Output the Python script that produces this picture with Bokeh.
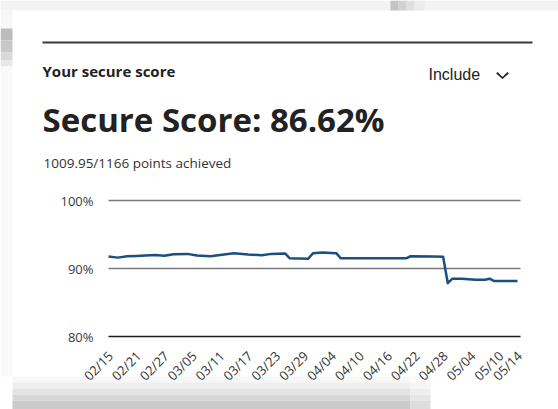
import math
import pandas as pd
from bokeh.plotting import figure
from bokeh.models import Range1d, Label, BoxAnnotation, PolyAnnotation
from bokeh.embed import file_html
from bokeh.resources import INLINE

YEAR = "2023"
# score series
dates = ["02/15", "02/17", "02/19", "02/21", "02/25", "02/27", "03/01", "03/04",
         "03/06", "03/09", "03/11", "03/14", "03/17", "03/20", "03/22", "03/25",
         "03/26", "03/30", "03/31", "04/02", "04/05", "04/06", "04/20", "04/21",
         "04/26", "04/28", "04/29", "04/30", "05/02", "05/05", "05/07", "05/08",
         "05/09", "05/14"]
scores = [91.76, 91.60, 91.80, 91.85, 92.00, 91.86, 92.10, 92.15,
          91.90, 91.80, 92.00, 92.25, 92.05, 91.95, 92.15, 92.22,
          91.50, 91.45, 92.25, 92.35, 92.25, 91.50, 91.50, 91.80,
          91.78, 91.72, 87.84, 88.50, 88.50, 88.35, 88.35, 88.50,
          88.15, 88.15]

x_tick_labels = ["02/15", "02/21", "02/27", "03/05", "03/11", "03/17", "03/23",
                 "03/29", "04/04", "04/10", "04/16", "04/22", "04/28", "05/04",
                 "05/10", "05/14"]
y_ticks = [80, 90, 100]
y_tick_labels = ["80%", "90%", "100%"]

card_label = "Your secure score"
filter_label = "Include"
headline = "Secure Score: 86.62%"
subline = "1009.95/1166 points achieved"

start = pd.to_datetime(YEAR + "/" + dates[0])
def day_of(d):
    return float((pd.to_datetime(YEAR + "/" + d) - start).days)

xs = [day_of(d) for d in dates]
tick_pos = [day_of(d) for d in x_tick_labels]

# ---- layout (page pixels) ----
W, H = 558, 409
PAGE0 = 0
PLOT_L, PLOT_R = 108, 517          # first / last day
GRID_R = 520
Y_TOP_PX, Y_BOT_PX = 200, 336      # 100% / 80%
px_day = (PLOT_R - PLOT_L) / (tick_pos[-1] - tick_pos[0])
px_pct = (Y_BOT_PX - Y_TOP_PX) / (y_ticks[-1] - y_ticks[0])
x0 = tick_pos[0] - (PLOT_L - PAGE0) / px_day
x1 = tick_pos[0] + (PAGE0 + W - PLOT_L) / px_day
y1 = y_ticks[-1] + (Y_TOP_PX - PAGE0) / px_pct
y0 = y_ticks[0] - (PAGE0 + H - Y_BOT_PX) / px_pct
grid_end = tick_pos[0] + (GRID_R - PLOT_L) / px_day

def sx(px):
    return px - PAGE0
def sy(py):
    return PAGE0 + H - py

def box(l, r, t, b, col, level="underlay"):
    p.add_layout(BoxAnnotation(left=sx(l), right=sx(r), bottom=sy(b), top=sy(t),
                               left_units="screen", right_units="screen",
                               bottom_units="screen", top_units="screen",
                               fill_color=col, fill_alpha=1, line_color=None,
                               level=level))

FONT = "Open Sans"
p = figure(width=W, height=H, output_backend="svg", toolbar_location=None,
           x_range=Range1d(x0, x1), y_range=Range1d(y0, y1),
           x_axis_location=None, y_axis_location=None, min_border=0)
p.outline_line_color = None
p.grid.visible = False
p.background_fill_color = "white"
p.border_fill_color = "white"

# shadows of the surrounding page
box(0, 558, 0, 10, "#f3f3f3")
for l, r, col in [(390, 398, "#c4c4c4"), (398, 406, "#d2d2d2"), (406, 414, "#e0e0e0"),
                  (414, 424, "#ebebeb")]:
    box(l, r, 0, 10, col)
box(0, 12, 10, 28, "#f7f7f7")
for t, b, col in [(28, 40, "#bcbcbc"), (40, 52, "#c8c8c8"), (52, 60, "#d8d8d8"),
                  (60, 66, "#e8e8e8")]:
    box(0, 12, t, b, col)
box(0, 12, 66, 376, "#f9f9f9")
for t, b, col in [(376, 382, "#f7f7f7"), (382, 388, "#eeeeee"), (388, 394, "#e3e3e3"),
                  (394, 400, "#d7d7d7"), (400, 409, "#cbcbcb")]:
    box(12, 410, t, b, col)
for t, b, col in [(376, 382, "#fafafa"), (382, 388, "#f5f5f5"), (388, 394, "#eeeeee"),
                  (394, 400, "#e6e6e6"), (400, 409, "#dddddd")]:
    box(410, 430, t, b, col)

# gridlines
grid_colors = ["#1a1a1a", "#7a7a7a", "#7a7a7a"]
p.segment(x0=[tick_pos[0]] * len(y_ticks), x1=[grid_end] * len(y_ticks),
          y0=y_ticks, y1=y_ticks, line_color=grid_colors, line_width=1.5)

# series
p.line(xs, scores, line_color="#1b4f7e", line_width=2.5, line_join="round")

# y tick labels
p.text(x=[tick_pos[0]] * len(y_ticks), y=y_ticks, text=y_tick_labels,
       x_offset=-15, text_align="right", text_baseline="middle",
       text_font={"value": FONT}, text_font_size="13px", text_color="#3a3a3a")

# x tick labels
p.text(x=tick_pos, y=[y_ticks[0]] * len(tick_pos), text=x_tick_labels,
       x_offset=2, y_offset=17, angle=math.pi / 4,
       text_align="right", text_baseline="middle",
       text_font={"value": FONT}, text_font_size="13px", text_color="#333333")

# header
box(42, 532, 41, 43, "#3a3a3a", level="annotation")
p.add_layout(Label(x=sx(42), y=sy(70), x_units="screen", y_units="screen", text=card_label,
                   text_font=FONT, text_font_style="bold", text_font_size="15px",
                   text_color="#222222", text_baseline="alphabetic"))
p.add_layout(Label(x=sx(428), y=sy(73.5), x_units="screen", y_units="screen", text=filter_label,
                   text_font="Liberation Sans", text_font_size="16px",
                   text_color="#222222", text_baseline="alphabetic"))
chev_x = [497, 502, 507, 508.3, 502, 495.7]
chev_y = [71.5, 76.5, 71.5, 72.9, 78.5, 72.9]
p.add_layout(PolyAnnotation(xs=[sx(v) for v in chev_x], ys=[sy(v) for v in chev_y],
                            xs_units="screen", ys_units="screen",
                            fill_color="#222222", fill_alpha=1, line_color="#222222",
                            line_width=0.3))
p.add_layout(Label(x=sx(42), y=sy(118.5), x_units="screen", y_units="screen", text=headline,
                   text_font=FONT, text_font_style="bold", text_font_size="33px",
                   text_color="#222222", text_baseline="alphabetic"))
p.add_layout(Label(x=sx(43), y=sy(162.5), x_units="screen", y_units="screen", text=subline,
                   text_font=FONT, text_font_size="13.5px",
                   text_color="#333333", text_baseline="alphabetic"))

open("out.html", "w").write(file_html(p, INLINE))
